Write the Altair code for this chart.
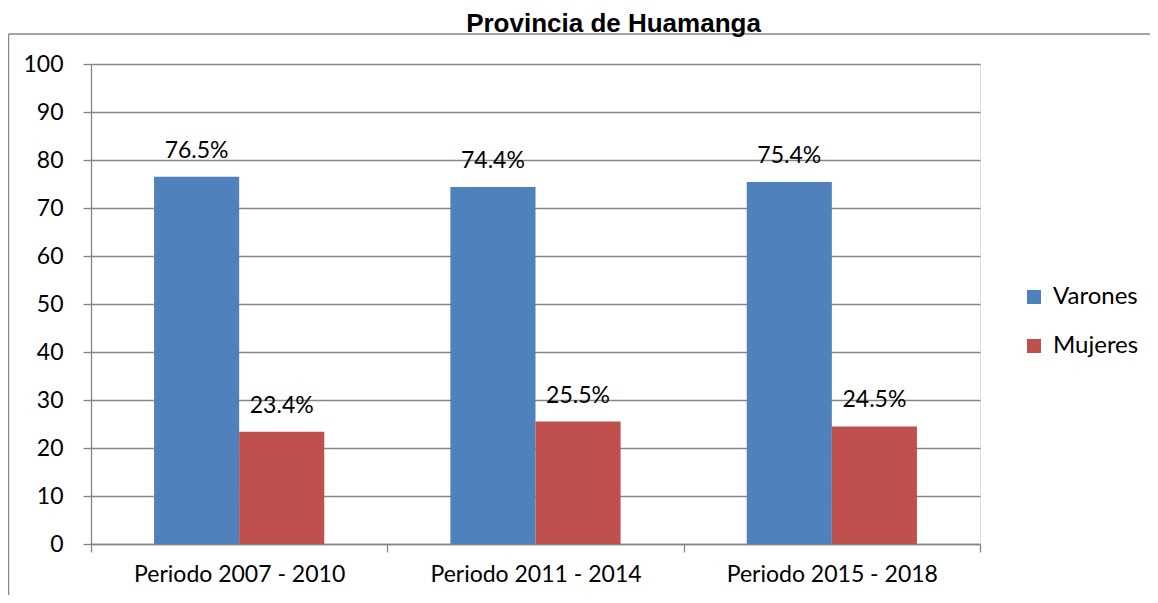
import altair as alt
import pandas as pd

periods = ["Periodo 2007 - 2010", "Periodo 2011 - 2014", "Periodo 2015 - 2018"]
groups = ["Varones", "Mujeres"]
varones = [76.5, 74.4, 75.4]
mujeres = [23.4, 25.5, 24.5]
y_ticks = [0, 10, 20, 30, 40, 50, 60, 70, 80, 90, 100]
colors = ["#4F81BD", "#C0504D"]

rows = []
for p, v, m in zip(periods, varones, mujeres):
    rows.append({"periodo": p, "sexo": "Varones", "valor": v})
    rows.append({"periodo": p, "sexo": "Mujeres", "valor": m})
df = pd.DataFrame(rows)
df["etiqueta"] = df["valor"].map(lambda v: f"{v:.1f}%")

W, H = 889, 480
FONT = "Lato"
GRAY = "#868686"

x = alt.X(
    "periodo:N", sort=periods,
    scale=alt.Scale(paddingInner=0, paddingOuter=0),
    axis=alt.Axis(title=None, labelAngle=0, labelFont=FONT, labelFontSize=23,
                  labelColor="#000000", labelLimit=0, domainColor=GRAY, domainWidth=1.3,
                  tickColor=GRAY, tickWidth=1.3, tickSize=8, tickBand="extent",
                  labelPadding=11, grid=False),
)
xoff = alt.XOffset("sexo:N", sort=groups,
                   scale=alt.Scale(paddingInner=0, paddingOuter=0.741))
y = alt.Y(
    "valor:Q", scale=alt.Scale(domain=[0, 100], nice=False),
    axis=alt.Axis(title=None, values=y_ticks, labelFont=FONT, labelFontSize=23,
                  labelColor="#000000", domainColor=GRAY, domainWidth=1.3,
                  tickColor=GRAY, tickWidth=1.3, tickSize=8, labelPadding=20,
                  grid=True, gridColor=GRAY, gridWidth=1.3),
)

bars = alt.Chart(df).mark_bar().encode(
    x=x, xOffset=xoff, y=y,
    color=alt.Color("sexo:N", sort=groups,
                    scale=alt.Scale(domain=groups, range=colors),
                    legend=alt.Legend(title=None, orient="none", legendX=931, legendY=221,
                                      symbolType="square", symbolSize=196,
                                      symbolStrokeWidth=0, labelFont=FONT,
                                      labelFontSize=24, labelColor="#000000",
                                      labelOffset=7, rowPadding=25)),
)

labels = alt.Chart(df).mark_text(font=FONT, fontSize=23, color="#000000",
                                 baseline="alphabetic", dy=-19).encode(
    x=alt.X("periodo:N", sort=periods), xOffset=alt.XOffset("sexo:N", sort=groups),
    y="valor:Q", text="etiqueta:N",
)

frame_df = pd.DataFrame({"k": [0]})
top_line = alt.Chart(frame_df).mark_rule(color=GRAY, strokeWidth=1.5).encode(
    x=alt.value(-82.5), x2=alt.value(1200), y=alt.value(-30))
left_line = alt.Chart(frame_df).mark_rule(color=GRAY, strokeWidth=1.5).encode(
    x=alt.value(-82.5), y=alt.value(-30), y2=alt.value(700))

chart = alt.layer(top_line, left_line, bars, labels).properties(
    width=W, height=H,
    title=alt.TitleParams("Provincia de Huamanga", font="Liberation Sans", fontSize=26,
                          fontWeight="bold", color="#000000", anchor="middle",
                          dx=78, dy=28, offset=3, baseline="alphabetic", frame="group"),
    autosize=alt.AutoSizeParams(type="none"),
    padding={"left": 83, "top": 56, "right": 170, "bottom": 51},
).configure_view(stroke=None).configure(background="white")

chart.save("out.html", embed_options={"renderer": "svg", "actions": False})
